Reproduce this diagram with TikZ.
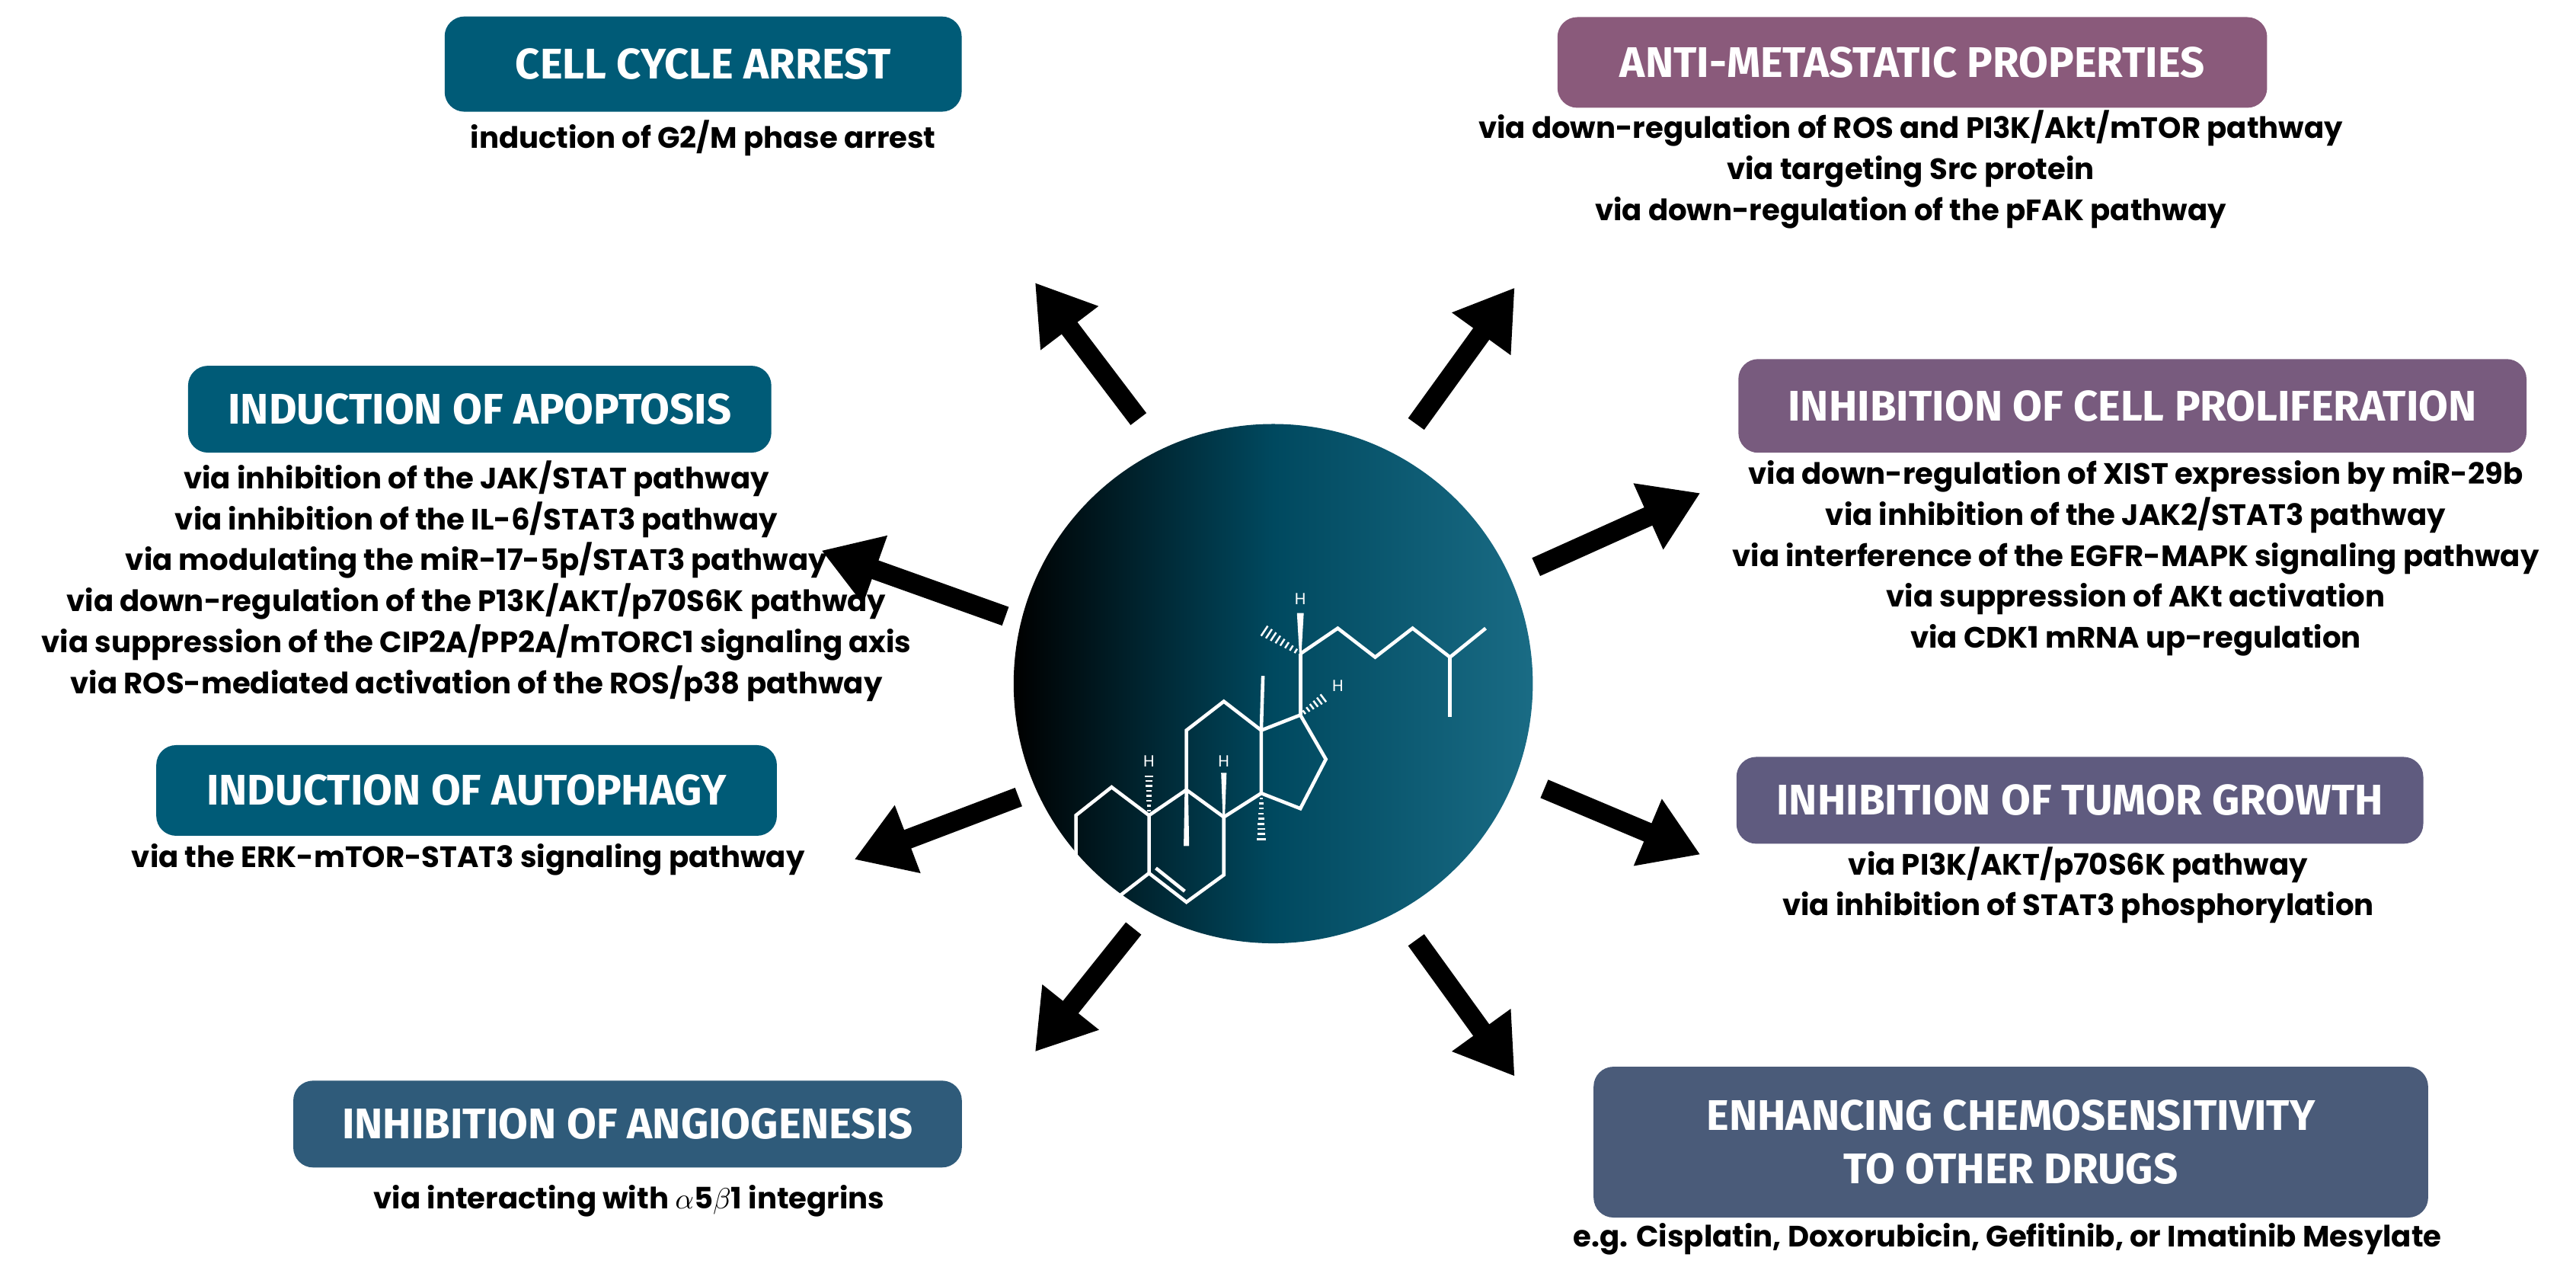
\documentclass[tikz,border=0pt]{standalone}
\usepackage{fontspec}
\setmainfont{Poppins}
\newfontfamily\ttl{Fira Sans}
\usetikzlibrary{arrows.meta,calc}
\definecolor{cteal}{HTML}{005B77}
\definecolor{cmauve}{HTML}{8A5A7B}
\definecolor{cplum}{HTML}{785B7E}
\definecolor{cvio}{HTML}{5F5B7F}
\definecolor{cslate}{HTML}{4A5B79}
\definecolor{cblue}{HTML}{2F5B7A}
\begin{document}
\begin{tikzpicture}[x=0.02157cm,y=-0.02157cm,
 box/.style={rounded corners=0.26cm,inner sep=0pt,text=white,font=\ttl\bfseries\fontsize{16}{20}\selectfont,align=center},
 body/.style={align=center,font=\bfseries\fontsize{11}{15.3}\selectfont,inner sep=0pt},
 arr/.style={line width=0.26cm,-{Triangle[length=0.75cm,width=0.9cm]}},
 mol/.style={white,line width=1.3pt,line join=miter},
 hl/.style={white,font=\fontsize{6}{7}\selectfont\rmfamily,inner sep=0pt}]
\useasboundingbox (0,0) rectangle (1568,769);
% circle
\shade[left color=black,right color=cteal!90!white,middle color=cteal!80!black] (775,416) circle (158);
% molecule
\begin{scope}[shift={(616.6,255)},scale=0.207]
\draw[mol] (185,1165)--(290,1082)--(400,1165)--(400,1335)--(290,1420)--(185,1335)--cycle;
\draw[mol] (400,1165)--(510,1090)--(620,1170)--(620,1340)--(510,1420)--(400,1335);
\draw[mol] (420,1320)--(505,1388);
\draw[mol] (510,1090)--(510,915)--(620,830)--(730,915)--(730,1100)--(620,1170);
\draw[mol] (730,915)--(845,870)--(920,1000)--(845,1145)--(730,1100);
\fill[white] (505,1090)--(515,1090)--(518,1255)--(502,1255)--cycle;
\draw[mol] (730,915)--(735,755);
\foreach \t in {0,0.1,...,1} {\draw[white,line width=0.7pt] ($(730,1100)!\t!(730,1250)+(-4-10*\t,0)$)--($(730,1100)!\t!(730,1250)+(4+10*\t,0)$);}
\foreach \t in {0,0.12,...,1} {\draw[white,line width=0.7pt] ($(400,1165)!\t!(400,1045)+(-4-8*\t,0)$)--($(400,1165)!\t!(400,1045)+(4+8*\t,0)$);}
\node[hl] (h1) at (400,1005) {H};
\fill[white] (617,1170)--(623,1170)--(628,1040)--(612,1040)--cycle;
\node[hl] (h2) at (620,1005) {H};
\draw[mol] (845,870)--(845,690);
\fill[white] (842,690)--(848,690)--(855,570)--(835,570)--cycle;
\node[hl] (h3) at (845,530) {H};
\foreach \t in {0,0.12,...,1} {\draw[white,line width=0.7pt] ($(845,690)!\t!(735,620)+(-3-7*\t,5+10*\t)$)--($(845,690)!\t!(735,620)+(3+7*\t,-5-10*\t)$);}
\foreach \t in {0,0.15,...,1} {\draw[white,line width=0.7pt] ($(845,870)!\t!(920,815)+(-3-6*\t,-4-8*\t)$)--($(845,870)!\t!(920,815)+(3+6*\t,4+8*\t)$);}
\node[hl] (h4) at (955,785) {H};
\draw[mol] (845,690)--(955,615)--(1065,700)--(1175,615)--(1285,700)--(1390,615);
\draw[mol] (1285,700)--(1285,875);
\draw[mol] (290,1420)--(240,1510);
\foreach \t in {0,0.15,...,1} {\draw[white,line width=0.7pt] ($(290,1420)!\t!(335,1510)+(-3-8*\t,2+4*\t)$)--($(290,1420)!\t!(335,1510)+(3+8*\t,-2-4*\t)$);}
\end{scope}
% boxes
\node[box,fill=cteal,minimum width=6.79cm,minimum height=1.25cm] (cca) at (428,39) {CELL CYCLE ARREST};
\node[box,fill=cmauve,minimum width=9.32cm,minimum height=1.19cm] (anti) at (1164,38) {ANTI-METASTATIC PROPERTIES};
\node[box,fill=cteal,minimum width=7.66cm,minimum height=1.14cm] (apop) at (292,249) {INDUCTION OF APOPTOSIS};
\node[box,fill=cplum,minimum width=10.35cm,minimum height=1.23cm] (prol) at (1298,247) {INHIBITION OF CELL PROLIFERATION};
\node[box,fill=cteal,minimum width=8.15cm,minimum height=1.19cm] (auto) at (284,481) {INDUCTION OF AUTOPHAGY};
\node[box,fill=cvio,minimum width=9.02cm,minimum height=1.14cm] (tum) at (1266,487) {INHIBITION OF TUMOR GROWTH};
\node[box,fill=cblue,minimum width=8.78cm,minimum height=1.14cm] (ang) at (382,684) {INHIBITION OF ANGIOGENESIS};
\node[box,fill=cslate,minimum width=10.96cm,minimum height=1.98cm] (che) at (1224,695) {ENHANCING CHEMOSENSITIVITY\\TO OTHER DRUGS};
% texts
\node[body,anchor=north] (tcca) at (428,73) {induction of G2/M phase arrest};
\node[body,anchor=north] (tanti) at (1163,67) {via down-regulation of ROS and PI3K/Akt/mTOR pathway\\via targeting Src protein\\via down-regulation of the pFAK pathway};
\node[body,anchor=north] (tapop) at (290,280) {via inhibition of the JAK/STAT pathway\\via inhibition of the IL-6/STAT3 pathway\\via modulating the miR-17-5p/STAT3 pathway\\via down-regulation of the P13K/AKT/p70S6K pathway\\via suppression of the CIP2A/PP2A/mTORC1 signaling axis\\via ROS-mediated activation of the ROS/p38 pathway};
\node[body,anchor=north] (tprol) at (1300,280) {via down-regulation of XIST expression by miR-29b\\via inhibition of the JAK2/STAT3 pathway\\via interference of the EGFR-MAPK signaling pathway\\via suppression of AKt activation\\via CDK1 mRNA up-regulation};
\node[body,anchor=north] (tauto) at (285,513) {via the ERK-mTOR-STAT3 signaling pathway};
\node[body,anchor=north] (ttum) at (1265,515) {via PI3K/AKT/p70S6K pathway\\via inhibition of STAT3 phosphorylation};
\node[body,anchor=north] (tang) at (383,721) {via interacting with $\alpha$5$\beta$1 integrins};
\node[body,anchor=south] (tche) at (1222,764) {e.g. Cisplatin, Doxorubicin, Gefitinib, or Imatinib Mesylate};
% arrows
\coordinate (a1s) at (693,255); \coordinate (a1e) at (630,172);
\coordinate (a2s) at (862,258); \coordinate (a2e) at (922,175);
\coordinate (a3s) at (612,375); \coordinate (a3e) at (500,335);
\coordinate (a4s) at (935,345); \coordinate (a4e) at (1035,300);
\coordinate (a5s) at (620,485); \coordinate (a5e) at (520,523);
\coordinate (a6s) at (940,480); \coordinate (a6e) at (1035,520);
\coordinate (a7s) at (690,565); \coordinate (a7e) at (630,640);
\coordinate (a8s) at (862,572); \coordinate (a8e) at (922,655);
\foreach \i in {1,...,8} {\draw[arr] (a\i s)--(a\i e);}
\end{tikzpicture}
\end{document}
